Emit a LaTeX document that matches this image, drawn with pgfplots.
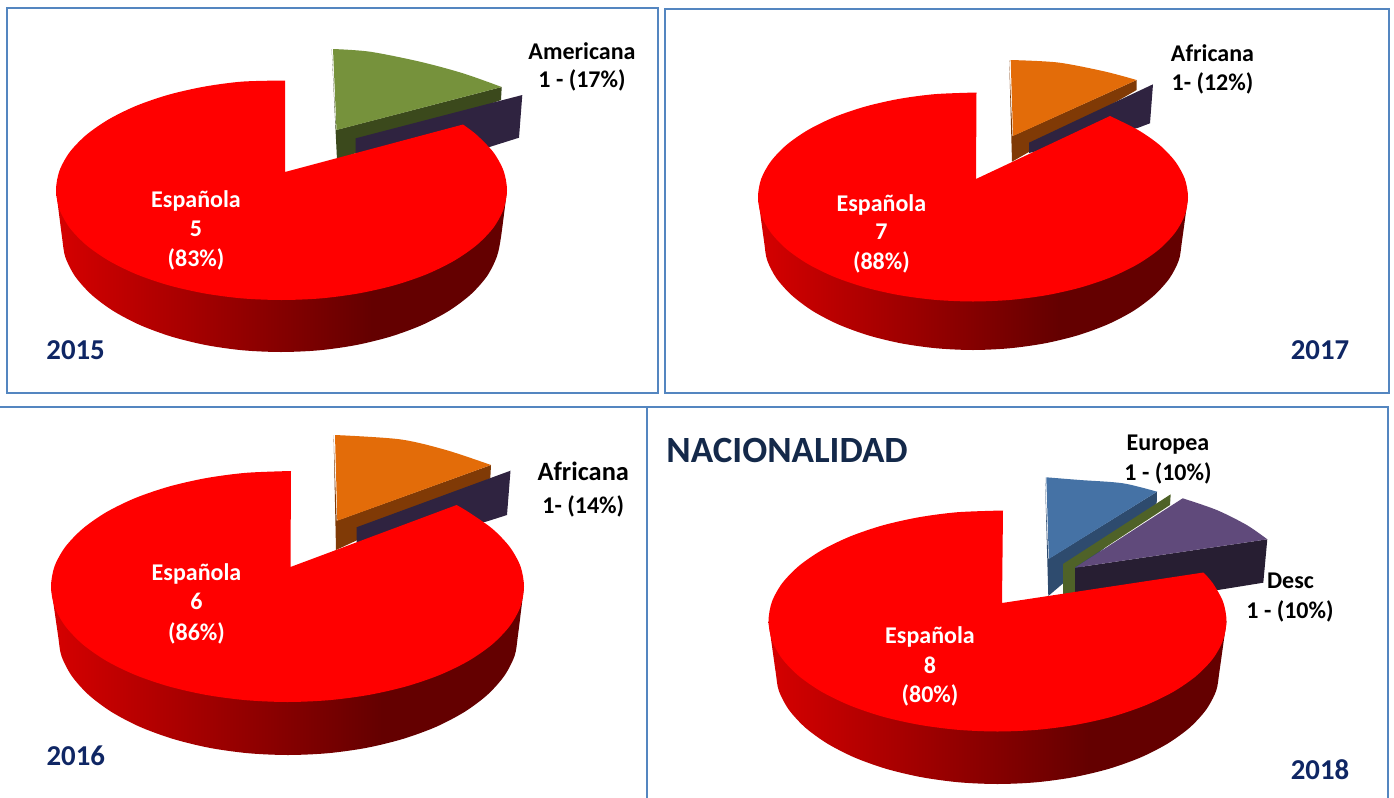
\documentclass[border=0pt]{standalone}
\usepackage{pgfplots}
\pgfplotsset{compat=1.18}
\usepackage{fontspec}
\setmainfont{Carlito}
\definecolor{wa}{RGB}{214,0,0}
\definecolor{wb}{RGB}{100,0,0}
\definecolor{fr}{RGB}{84,134,192}
\definecolor{yr}{RGB}{15,38,100}
\definecolor{ttl}{RGB}{20,41,74}
\definecolor{grn}{RGB}{118,146,60}
\definecolor{grnd}{RGB}{59,73,28}
\definecolor{prp}{RGB}{47,35,64}
\definecolor{org}{RGB}{227,108,9}
\definecolor{orgd}{RGB}{128,58,6}
\definecolor{blu}{RGB}{69,114,165}
\definecolor{blud}{RGB}{46,75,110}
\definecolor{sli}{RGB}{79,98,40}
\definecolor{vio}{RGB}{96,74,123}
\definecolor{viod}{RGB}{39,30,50}
\pgfdeclarehorizontalshading{wallshade}{100bp}{color(0bp)=(wa); color(25bp)=(wa); color(60bp)=(wb); color(100bp)=(wb)}
\newcommand{\lab}[4]{\node[anchor=base,text=#1,inner sep=0pt,font=\fontsize{12}{14}\selectfont\bfseries] at (axis cs:#2,#3) {#4};}
\newcommand{\yrl}[3]{\node[anchor=base,text=yr,inner sep=0pt,font=\fontsize{14.4}{16}\selectfont\bfseries] at (axis cs:#1,#2) {#3};}
\begin{document}
\begin{tikzpicture}
\useasboundingbox (0,0) rectangle (697pt,399pt);
\begin{axis}[at={(0,0)},anchor=south west,scale only axis,width=697pt,height=399pt,
 xmin=0,xmax=1394,ymin=0,ymax=798,y dir=reverse,hide axis,clip=true]
% frames
\addplot[draw=fr,line width=0.9pt] coordinates {(7,8)(658,8)(658,393)(7,393)} -- cycle;
\addplot[draw=fr,line width=0.9pt] coordinates {(665,9)(1389,9)(1389,393)(665,393)} -- cycle;
\addplot[draw=fr,line width=0.9pt] coordinates {(0,407)(647,407)(647,798)};
\addplot[draw=fr,line width=0.9pt] coordinates {(647,407)(1388,407)(1388,798)};
% 2015
\addplot[fill=grnd,draw=none] coordinates {(331.7,49)(336,130)(501.7,87)(501,100)(337,160)} -- cycle;
\addplot[fill=grn,draw=none,smooth] coordinates {(333,49)(370,51.7)(420,61.7)(463,73.3)(501.7,87)} -- (axis cs:336.5,130) -- cycle;
\addplot[fill=prp,draw=none] coordinates {(355.7,138.3)(522.3,95)(519,137.7)(480,150)(355.7,155)} -- cycle;
\addplot[shading=wallshade,shade,draw=none,smooth] coordinates {(56,190)(62,237)(65.3,257)(75.1,276.3)(91.3,294.5)(113.2,310.9)(140.2,325.1)(171.5,336.6)(206.1,345.1)(242.9,350.3)(281,352)(319.1,350.3)(355.9,345.1)(390.5,336.6)(421.8,325.1)(448.8,310.9)(470.7,294.5)(486.9,276.3)(496.7,257)(501,237)(507,190)} -- cycle;
\addplot[fill=red,draw=none,smooth] coordinates {(463,124.5)(476.8,135)(493.5,152.4)(503.6,170.9)(507,190)(503.6,209.1)(493.5,227.6)(476.8,245)(454.2,260.7)(426.5,274.3)(394.3,285.3)(358.6,293.4)(320.7,298.4)(281.5,300)(242.3,298.4)(204.4,293.4)(168.7,285.3)(136.5,274.3)(108.8,260.7)(86.2,245)(69.5,227.6)(59.4,209.1)(56,190)(59.4,170.9)(69.5,152.4)(86.2,135)(108.8,119.3)(136.5,105.7)(168.7,94.7)(204.4,86.6)(242.3,81.6)(285,80.5)} -- (axis cs:285,172) -- cycle;
% 2017
\addplot[fill=orgd,draw=none] coordinates {(1009.2,60)(1012.5,136)(1136.6,80)(1136.6,90)(1012,161.7)} -- cycle;
\addplot[fill=org,draw=none,smooth] coordinates {(1010.7,60)(1058,62.5)(1104.8,71.5)(1136.6,80)} -- (axis cs:1013,136) -- cycle;
\addplot[fill=prp,draw=none] coordinates {(1029,142.7)(1153,84.3)(1150,123.3)(1137.5,128)(1029,153)} -- cycle;
\addplot[shading=wallshade,shade,draw=none,smooth] coordinates {(758,197)(764,241)(767.1,260)(776.5,278.3)(792,295.5)(812.9,311.1)(838.6,324.5)(868.5,335.4)(901.5,343.4)(936.7,348.3)(973,350)(1009.3,348.3)(1044.5,343.4)(1077.5,335.4)(1107.4,324.5)(1133.1,311.1)(1154,295.5)(1169.5,278.3)(1178.9,260)(1182,241)(1188,197)} -- cycle;
\addplot[fill=red,draw=none,smooth] coordinates {(1110,116)(1137.7,129.8)(1159.2,144.7)(1175.1,161.3)(1184.8,178.8)(1188,197)(1184.8,215.2)(1175.1,232.7)(1159.2,249.3)(1137.7,264.2)(1111.2,277.1)(1080.5,287.5)(1046.5,295.2)(1010.4,299.9)(973,301.5)(935.6,299.9)(899.5,295.2)(865.5,287.5)(834.8,277.1)(808.3,264.2)(786.8,249.3)(770.9,232.7)(761.2,215.2)(758,197)(761.2,178.8)(770.9,161.3)(786.8,144.7)(808.3,129.8)(834.8,116.9)(865.5,106.5)(899.5,98.8)(935.6,94.1)(976.5,92.5)} -- (axis cs:976,179) -- cycle;
% 2016
\addplot[fill=orgd,draw=none] coordinates {(333.6,435)(336.7,520.7)(491,465)(490.3,478.3)(336,550)} -- cycle;
\addplot[fill=org,draw=none,smooth] coordinates {(335,435)(399.8,439.3)(446,450)(491,465)} -- (axis cs:337.3,520.7) -- cycle;
\addplot[fill=prp,draw=none] coordinates {(356.5,527.3)(510.5,470.7)(507,515)(486,521.7)(356.5,542.7)} -- cycle;
\addplot[shading=wallshade,shade,draw=none,smooth] coordinates {(51,586.5)(58,635)(61.4,655.8)(71.8,676)(88.8,695)(111.8,712.1)(140.1,726.9)(173,738.9)(209.3,747.8)(248,753.2)(288,755)(328,753.2)(366.7,747.8)(403,738.9)(435.9,726.9)(464.2,712.1)(487.2,695)(504.2,676)(514.6,655.8)(518,635)(524,586.5)} -- cycle;
\addplot[fill=red,draw=none,smooth] coordinates {(456.6,505)(468.7,512.2)(492.3,528.7)(509.8,547)(520.5,566.4)(524,586.5)(520.5,606.6)(509.8,626)(492.3,644.3)(468.7,660.8)(439.6,675)(405.8,686.5)(368.4,695)(328.7,700.2)(287.5,702)(246.3,700.2)(206.6,695)(169.2,686.5)(135.4,675)(106.3,660.8)(82.7,644.3)(65.2,626)(54.5,606.6)(51,586.5)(54.5,566.4)(65.2,547)(82.7,528.7)(106.3,512.2)(135.4,498)(169.2,486.5)(206.6,478)(246.3,472.8)(291,471)} -- (axis cs:290.5,567) -- cycle;
% 2018
\addplot[fill=blud,draw=none] coordinates {(1045,477.3)(1048.3,559)(1157,491.7)(1156.7,503.3)(1048.3,596)} -- cycle;
\addplot[fill=blu,draw=none,smooth] coordinates {(1046.3,477.3)(1080,480)(1123,483.3)(1157,491.7)} -- (axis cs:1048.8,559) -- cycle;
\addplot[fill=sli,draw=none] coordinates {(1063,564)(1170.7,494.3)(1170,505)(1075,567.3)(1075,593.3)(1063,595)} -- cycle;
\addplot[fill=viod,draw=none] coordinates {(1075,567.7)(1267.3,539.3)(1263.3,582.7)(1218,590)(1075,593.3)} -- cycle;
\addplot[fill=vio,draw=none,smooth] coordinates {(1182.7,498.3)(1216.7,510)(1246.7,525)(1267.3,539.3)} -- (axis cs:1075,567.7) -- cycle;
\addplot[shading=wallshade,shade,draw=none,smooth] coordinates {(768.5,621)(775.5,671)(778.8,690.6)(788.8,709.6)(805.2,727.5)(827.4,743.6)(854.8,757.6)(886.5,768.9)(921.6,777.2)(958.9,782.3)(997.5,784)(1036.1,782.3)(1073.4,777.2)(1108.5,768.9)(1140.2,757.6)(1167.6,743.6)(1189.8,727.5)(1206.2,709.6)(1216.2,690.6)(1219.5,671)(1226.5,621)} -- cycle;
\addplot[fill=red,draw=none,smooth] coordinates {(1203.5,572.5)(1212.8,583.2)(1223.1,601.8)(1226.5,621)(1223.1,640.2)(1212.8,658.8)(1195.8,676.3)(1172.9,692)(1144.7,705.6)(1112,716.7)(1075.8,724.8)(1037.3,729.8)(997.5,731.5)(957.7,729.8)(919.2,724.8)(883,716.7)(850.3,705.6)(822.1,692)(799.2,676.3)(782.2,658.8)(771.9,640.2)(768.5,621)(771.9,601.8)(782.2,583.2)(799.2,565.7)(822.1,550)(850.3,536.4)(883,525.3)(919.2,517.2)(957.7,512.2)(1003,510.5)} -- (axis cs:1002,603) -- cycle;
% labels
\lab{black}{582}{59}{Americana}
\lab{black}{582}{87.8}{1 - (17\%)}
\lab{white}{196}{207}{Española}
\lab{white}{196}{236}{5}
\lab{white}{196}{266}{(83\%)}
\yrl{75.6}{359}{2015}
\lab{black}{1212.5}{61}{Africana}
\lab{black}{1212.5}{90.8}{1- (12\%)}
\lab{white}{881.4}{211}{Española}
\lab{white}{881.4}{239.3}{7}
\lab{white}{881.4}{269.5}{(88\%)}
\yrl{1320}{359}{2017}
\node[anchor=base,text=black,inner sep=0pt,font=\fontsize{13.2}{15}\selectfont\bfseries] at (axis cs:583.3,480.3) {Africana};
\lab{black}{583.3}{513}{1- (14\%)}
\lab{white}{196.5}{580}{Española}
\lab{white}{196.5}{609.3}{6}
\lab{white}{196.5}{640.3}{(86\%)}
\yrl{75.8}{765}{2016}
\lab{black}{1168}{450.3}{Europea}
\lab{black}{1168}{480}{1 - (10\%)}
\lab{black}{1290.5}{588.3}{Desc}
\lab{black}{1290}{618.7}{1 - (10\%)}
\lab{white}{930}{643.2}{Española}
\lab{white}{930}{673.2}{8}
\lab{white}{930}{702}{(80\%)}
\yrl{1320}{779.3}{2018}
\node[anchor=base west,text=ttl,inner sep=0pt,font=\fontsize{18.5}{20}\selectfont\bfseries] at (axis cs:666,462) {NACIONALIDAD};
\end{axis}
\end{tikzpicture}
\end{document}
